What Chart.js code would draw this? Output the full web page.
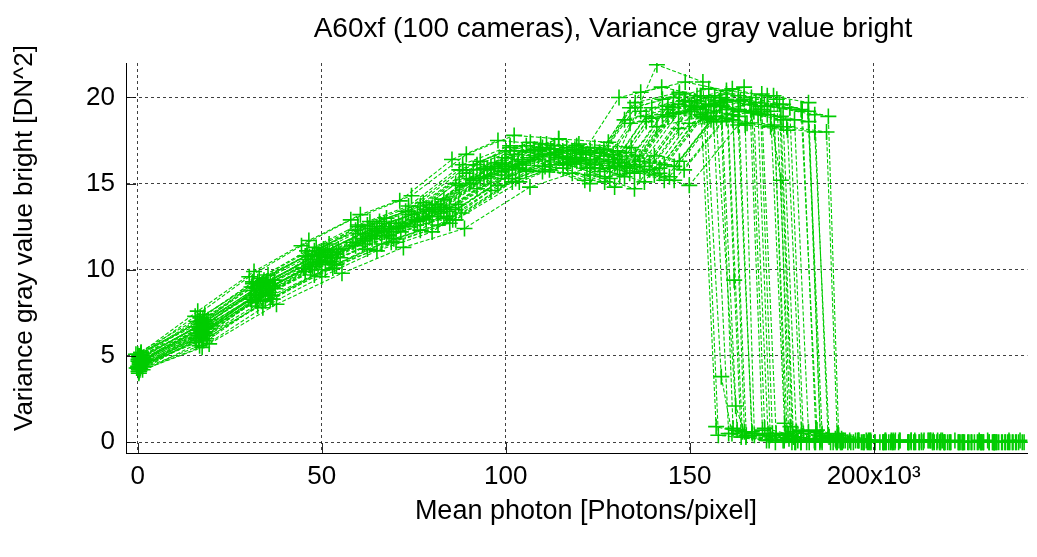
<!DOCTYPE html>
<html>
<head>
<meta charset="utf-8">
<script src="https://cdn.jsdelivr.net/npm/chart.js@4.4.0/dist/chart.umd.min.js"></script>
<style>
  body { margin: 0; background: #fff; }
</style>
</head>
<body>
<canvas id="myChart" width="1037" height="557"></canvas>
<script>
const chartTitle = 'A60xf (100 cameras), Variance gray value bright';
const xTitle = 'Mean photon [Photons/pixel]';
const yTitle = 'Variance gray value bright [DN^2]';

const xTickValues = [0, 50, 100, 150, 200];
const xTickLabels = ['0', '50', '100', '150', '200x10³'];
const yTickValues = [0, 5, 10, 15, 20];
const yTickLabels = ['0', '5', '10', '15', '20'];

// mean photons (x10^3) per measurement, one row per camera
const camPhotons = [
  [0.9, 16.1, 31.3, 46.0, 59.8, 73.6, 88.3, 101.2, 113.2, 124.2, 135.2, 147.2, 158.2, 169.3, 172.5, 185.4, 198.3, 211.2, 224.1, 237.0],
  [0.3, 18.9, 36.7, 54.0, 70.2, 86.4, 103.7, 118.8, 132.8, 145.8, 158.8, 162.9, 177.0, 191.2, 205.3, 219.4, 233.5],
  [1.2, 16.6, 32.3, 47.5, 61.8, 76.0, 91.2, 104.5, 116.9, 128.3, 139.7, 152.0, 163.4, 174.8, 178.2, 191.5, 204.8, 218.1, 231.4],
  [0.5, 17.5, 34.0, 50.0, 65.0, 80.0, 96.0, 110.0, 123.0, 135.0, 147.0, 160.0, 172.0, 175.8, 189.6, 203.4, 217.2, 231.0],
  [0.0, 18.0, 35.0, 51.5, 67.0, 82.4, 98.9, 113.3, 126.7, 139.1, 151.4, 164.8, 167.6, 181.8, 196.0, 210.2, 224.4, 238.6],
  [0.7, 17.0, 33.0, 48.5, 63.1, 77.6, 93.1, 106.7, 119.3, 131.0, 142.6, 155.2, 166.8, 178.5, 182.3, 195.9, 209.5, 223.1, 236.7],
  [1.5, 18.4, 35.7, 52.5, 68.3, 84.0, 100.8, 115.5, 129.2, 141.8, 154.4, 158.6, 161.5, 175.7, 189.9, 204.1, 218.3, 232.5],
  [0.4, 15.8, 30.6, 45.0, 58.5, 72.0, 86.4, 99.0, 110.7, 121.5, 132.3, 144.0, 154.8, 165.6, 176.4, 187.2, 190.1, 202.8, 215.5, 228.2, 240.9],
  [0.9, 17.7, 34.3, 50.5, 65.7, 80.8, 97.0, 111.1, 124.2, 136.4, 148.5, 161.6, 173.7, 177.4, 191.3, 205.2, 219.1, 233.0],
  [0.1, 16.5, 32.0, 47.0, 61.1, 75.2, 90.2, 103.4, 115.6, 126.9, 138.2, 150.4, 161.7, 165.4, 178.6, 191.8, 205.0, 218.2, 231.4],
  [0.6, 18.6, 36.0, 53.0, 68.9, 84.8, 101.8, 116.6, 130.4, 143.1, 155.8, 169.6, 182.3, 185.5, 200.3, 215.1, 229.9],
  [1.1, 17.3, 33.7, 49.5, 64.4, 79.2, 95.0, 108.9, 121.8, 133.7, 145.5, 158.4, 161.8, 175.4, 189.0, 202.6, 216.2, 229.8],
  [0.2, 19.3, 37.4, 55.0, 71.5, 88.0, 105.6, 121.0, 135.3, 148.5, 161.7, 164.9, 180.3, 195.7, 211.1, 226.5],
  [0.8, 16.8, 32.6, 48.0, 62.4, 76.8, 92.2, 105.6, 118.1, 129.6, 141.1, 153.6, 157.8, 170.9, 184.0, 197.1, 210.2, 223.3, 236.4],
  [0.3, 17.9, 34.7, 51.0, 66.3, 81.6, 97.9, 112.2, 125.5, 137.7, 149.9, 163.2, 175.4, 179.0, 193.0, 207.0, 221.0, 235.0],
  [0.6, 16.3, 31.6, 46.5, 60.5, 74.4, 89.3, 102.3, 114.4, 125.6, 136.7, 148.8, 160.0, 171.1, 182.3, 186.0, 199.2, 212.4, 225.6, 238.8],
  [1.0, 18.2, 35.4, 52.0, 67.6, 83.2, 99.8, 114.4, 127.9, 140.4, 152.9, 166.4, 169.8, 184.2, 198.6, 213.0, 227.4],
  [0.4, 17.2, 33.3, 49.0, 63.7, 78.4, 94.1, 107.8, 120.5, 132.3, 144.1, 156.8, 162.5, 165.3, 178.8, 192.3, 205.8, 219.3, 232.8],
  [0.7, 18.7, 36.4, 53.5, 69.6, 85.6, 102.7, 117.7, 131.6, 144.5, 157.3, 171.2, 184.0, 187.6, 202.5, 217.4, 232.3],
  [0.2, 15.9, 30.9, 45.5, 59.2, 72.8, 87.4, 100.1, 111.9, 122.9, 133.8, 145.6, 156.5, 167.4, 171.3, 184.0, 196.7, 209.4, 222.1, 234.8],
  [0.3, 15.6, 30.3, 44.5, 57.9, 71.2, 85.4, 97.9, 109.5, 120.2, 130.8, 142.4, 153.1, 163.8, 174.4, 177.9, 190.6, 203.3, 216.0, 228.7],
  [1.3, 19.4, 37.7, 55.5, 72.2, 88.8, 106.6, 122.1, 136.5, 149.9, 163.2, 167.0, 182.5, 198.0, 213.5, 229.0],
  [0.6, 16.8, 32.6, 48.0, 62.4, 76.8, 92.2, 105.6, 118.1, 129.6, 141.1, 153.6, 165.1, 176.6, 180.4, 193.8, 207.2, 220.6, 234.0],
  [-0.5, 18.2, 35.4, 52.0, 67.6, 83.2, 99.8, 114.4, 127.9, 140.4, 152.9, 157.2, 171.6, 186.0, 200.4, 214.8, 229.2],
  [0.9, 16.3, 31.6, 46.5, 60.5, 74.4, 89.3, 102.3, 114.4, 125.6, 136.7, 148.8, 160.0, 171.1, 174.8, 176.9, 190.1, 203.3, 216.5, 229.7],
  [0.2, 17.5, 34.0, 50.0, 65.0, 80.0, 96.0, 110.0, 123.0, 135.0, 147.0, 160.0, 172.0, 184.0, 187.9, 201.7, 215.5, 229.3],
  [1.4, 19.1, 37.1, 54.5, 70.9, 87.2, 104.6, 119.9, 134.1, 147.2, 160.2, 164.3, 179.4, 194.5, 209.6, 224.7, 239.8],
  [0.0, 15.9, 30.9, 45.5, 59.2, 72.8, 87.4, 100.1, 111.9, 122.9, 133.8, 145.6, 156.5, 160.6, 173.3, 186.0, 198.7, 211.4, 224.1, 236.8],
  [0.8, 17.9, 34.7, 51.0, 66.3, 81.6, 97.9, 112.2, 125.5, 137.7, 149.9, 163.2, 175.4, 187.7, 190.5, 204.6, 218.7, 232.8],
  [0.5, 17.0, 33.0, 48.5, 63.1, 77.6, 93.1, 106.7, 119.3, 131.0, 142.6, 155.2, 166.8, 170.4, 183.9, 197.4, 210.9, 224.4, 237.9],
  [0.1, 18.6, 36.0, 53.0, 68.9, 84.8, 101.8, 116.6, 130.4, 143.1, 155.8, 169.6, 173.5, 188.3, 203.1, 217.9, 232.7],
  [1.0, 17.3, 33.7, 49.5, 64.4, 79.2, 95.0, 108.9, 121.8, 133.7, 145.5, 158.4, 170.3, 182.2, 185.6, 199.3, 213.0, 226.7, 240.4],
  [0.4, 16.6, 32.3, 47.5, 61.8, 76.0, 91.2, 104.5, 116.9, 128.3, 139.7, 152.0, 163.4, 166.9, 180.2, 193.5, 206.8, 220.1, 233.4],
  [1.2, 18.0, 35.0, 51.5, 67.0, 82.4, 98.9, 113.3, 126.7, 139.1, 151.4, 164.8, 177.2, 180.9, 195.1, 209.3, 223.5, 237.7],
  [0.6, 16.1, 31.3, 46.0, 59.8, 73.6, 88.3, 101.2, 113.2, 124.2, 135.2, 147.2, 158.2, 169.3, 180.3, 184.6, 197.4, 210.2, 223.0, 235.8],
  [0.9, 18.9, 36.7, 54.0, 70.2, 86.4, 103.7, 118.8, 132.8, 145.8, 158.8, 172.8, 176.1, 191.0, 205.9, 220.8, 235.7],
  [1.7, 17.5, 34.0, 50.0, 65.0, 80.0, 96.0, 110.0, 123.0, 135.0, 147.0, 160.0, 162.1, 164.0, 177.8, 191.6, 205.4, 219.2, 233.0],
  [-0.3, 16.5, 32.0, 47.0, 61.1, 75.2, 90.2, 103.4, 115.6, 126.9, 138.2, 150.4, 161.7, 173.0, 176.5, 189.7, 202.9, 216.1, 229.3],
  [0.5, 18.4, 35.7, 52.5, 68.3, 84.0, 100.8, 115.5, 129.2, 141.8, 154.4, 168.0, 180.6, 184.3, 199.0, 213.7, 228.4],
  [1.3, 17.2, 33.3, 49.0, 63.7, 78.4, 94.1, 107.8, 120.5, 132.3, 144.1, 156.8, 168.6, 171.9, 185.4, 198.9, 212.4, 225.9, 239.4]
];

// variance [DN^2], same order as camPhotons
const camVariance = [
  [4.9, 6.7, 9.2, 10.8, 12.5, 13.4, 15.8, 17.1, 16.7, 16.1, 19.4, 20.2, 19.5, 19.1, 0.5, 0.1, 0.0, 0.1, 0.0, 0.0],
  [4.2, 6.2, 8.3, 10.3, 11.6, 12.9, 15.1, 16.4, 16.0, 15.2, 18.6, 0.7, 0.2, 0.0, 0.1, 0.0, 0.0],
  [4.7, 6.5, 8.9, 10.8, 12.1, 13.3, 15.8, 16.9, 16.5, 15.9, 19.4, 20.1, 19.3, 18.9, 0.3, 0.0, 0.1, 0.0, 0.0],
  [4.6, 6.4, 8.8, 10.5, 12.2, 13.1, 15.5, 16.7, 16.4, 15.6, 19.1, 19.9, 19.2, 1.1, 0.2, 0.0, 0.0, 0.1],
  [5.1, 7.0, 9.3, 11.1, 12.7, 13.7, 16.1, 17.2, 17.0, 16.2, 19.8, 20.6, 0.4, 0.0, 0.1, 0.0, 0.0, 0.0],
  [4.4, 6.3, 8.6, 10.4, 11.9, 13.0, 15.3, 16.5, 16.3, 15.5, 19.0, 19.6, 19.1, 18.7, 0.6, 0.1, 0.0, 0.0, 0.0],
  [4.8, 6.7, 9.0, 10.8, 12.4, 13.4, 15.8, 16.9, 16.7, 15.9, 19.5, 3.8, 0.5, 0.1, 0.0, 0.0, 0.1, 0.0],
  [4.1, 6.0, 8.3, 10.1, 11.6, 12.7, 15.0, 16.2, 16.0, 15.2, 18.7, 19.3, 18.8, 18.5, 18.3, 18.0, 0.5, 0.0, 0.1, 0.0, 0.0],
  [5.2, 7.1, 9.4, 11.2, 12.8, 13.8, 16.2, 17.3, 17.1, 16.3, 19.8, 20.5, 19.9, 0.9, 0.2, 0.0, 0.0, 0.0],
  [4.3, 6.2, 8.5, 10.3, 11.8, 12.9, 15.3, 16.4, 16.2, 15.4, 18.9, 19.5, 19.0, 0.4, 0.0, 0.1, 0.0, 0.0, 0.0],
  [5.0, 6.9, 9.2, 11.0, 12.5, 13.6, 16.0, 17.1, 16.9, 16.1, 19.6, 20.2, 19.7, 0.3, 0.0, 0.1, 0.0],
  [4.5, 6.4, 8.7, 10.5, 12.0, 13.1, 15.4, 16.6, 16.4, 15.6, 19.1, 19.7, 0.8, 0.1, 0.0, 0.0, 0.1, 0.0],
  [4.7, 6.6, 8.9, 10.7, 12.2, 13.3, 15.7, 16.8, 16.6, 15.8, 19.3, 0.6, 0.0, 0.1, 0.0, 0.0],
  [5.1, 7.0, 9.3, 11.1, 12.6, 13.7, 16.1, 17.2, 16.9, 16.2, 21.9, 20.9, 0.4, 0.1, 0.0, 0.0, 0.1, 0.0, 0.0],
  [4.0, 5.9, 8.2, 10.0, 11.5, 12.6, 14.9, 16.1, 15.9, 15.1, 18.5, 19.2, 18.7, 0.6, 0.0, 0.1, 0.0, 0.0],
  [4.6, 6.5, 8.8, 10.6, 12.1, 13.2, 15.6, 16.7, 16.5, 15.7, 19.2, 19.8, 19.3, 19.0, 18.6, 0.5, 0.1, 0.0, 0.0, 0.0],
  [4.4, 6.3, 8.6, 10.4, 11.9, 13.0, 15.3, 16.5, 16.3, 15.5, 19.0, 19.6, 0.7, 0.0, 0.1, 0.0, 0.0],
  [4.9, 6.8, 9.1, 10.9, 12.4, 13.5, 15.9, 17.0, 16.8, 16.0, 19.5, 20.1, 2.1, 0.3, 0.0, 0.1, 0.0, 0.0, 0.0],
  [4.3, 6.2, 8.5, 10.3, 11.8, 12.9, 15.3, 16.4, 16.2, 15.4, 18.9, 19.5, 19.0, 0.4, 0.0, 0.1, 0.0],
  [4.8, 6.7, 9.0, 10.8, 12.3, 13.4, 15.8, 16.9, 16.7, 15.9, 19.4, 20.0, 19.5, 19.2, 0.5, 0.1, 0.0, 0.0, 0.1, 0.0],
  [5.0, 7.3, 9.6, 11.4, 12.9, 14.0, 16.4, 17.5, 17.3, 16.5, 20.0, 20.6, 20.1, 19.8, 19.6, 0.6, 0.1, 0.0, 0.0, 0.1],
  [4.2, 5.7, 8.0, 9.8, 11.3, 12.4, 14.8, 15.9, 15.7, 14.9, 18.4, 0.5, 0.0, 0.1, 0.0, 0.0],
  [4.2, 5.6, 7.9, 9.7, 11.2, 12.3, 14.7, 15.8, 15.6, 14.8, 18.3, 18.9, 18.4, 18.1, 0.7, 0.0, 0.1, 0.0, 0.0],
  [5.1, 7.4, 9.7, 11.5, 13.0, 14.1, 16.5, 17.6, 17.4, 16.6, 20.1, 0.9, 0.1, 0.0, 0.0, 0.1, 0.0],
  [5.2, 7.6, 9.9, 11.7, 13.2, 14.3, 16.7, 17.8, 17.6, 16.8, 20.3, 20.9, 20.4, 20.1, 15.2, 0.4, 0.0, 0.1, 0.0, 0.0],
  [4.1, 5.5, 7.8, 9.6, 11.1, 12.2, 14.6, 15.7, 15.5, 14.7, 18.2, 18.8, 18.3, 18.0, 0.3, 0.0, 0.1, 0.0],
  [4.9, 7.1, 9.4, 11.2, 12.7, 13.8, 16.2, 17.3, 17.1, 16.3, 19.8, 0.6, 0.1, 0.0, 0.0, 0.0, 0.1],
  [4.3, 5.8, 8.1, 9.9, 11.4, 12.5, 14.9, 16.0, 15.8, 15.0, 18.5, 19.1, 18.6, 0.5, 0.0, 0.1, 0.0, 0.0, 0.0, 0.1],
  [4.7, 6.8, 9.1, 10.9, 12.4, 13.5, 15.9, 17.0, 16.8, 16.0, 19.5, 20.1, 19.6, 18.9, 0.4, 0.0, 0.1, 0.0],
  [5.0, 7.2, 9.5, 11.3, 12.8, 13.9, 16.3, 17.4, 17.2, 16.4, 19.9, 20.5, 20.0, 0.8, 0.1, 0.0, 0.0, 0.0, 0.0],
  [4.4, 6.0, 8.3, 10.1, 11.6, 12.7, 15.1, 16.2, 16.0, 15.2, 18.7, 19.3, 0.5, 0.0, 0.1, 0.0, 0.0],
  [4.7, 6.7, 9.0, 10.8, 12.3, 13.4, 15.8, 16.9, 16.7, 15.9, 19.4, 20.0, 19.5, 19.2, 0.2, 0.0, 0.1, 0.0, 0.0],
  [4.4, 6.1, 8.4, 10.2, 11.7, 12.8, 15.2, 16.3, 16.1, 15.3, 18.8, 19.4, 18.9, 0.6, 0.0, 0.1, 0.0, 0.0, 0.0],
  [4.6, 6.6, 8.9, 10.7, 12.2, 13.3, 15.7, 16.8, 16.6, 15.8, 19.3, 19.9, 19.4, 0.5, 0.1, 0.0, 0.0, 0.0],
  [4.9, 7.0, 9.3, 11.1, 12.6, 13.7, 16.1, 17.2, 17.0, 16.2, 19.7, 20.3, 19.8, 19.5, 19.3, 0.7, 0.0, 0.1, 0.0, 0.0],
  [4.8, 6.8, 9.1, 10.9, 12.4, 13.5, 15.9, 17.0, 16.8, 16.0, 19.5, 20.1, 0.4, 0.0, 0.1, 0.0, 0.0],
  [4.8, 6.9, 9.2, 11.0, 12.5, 13.6, 16.0, 17.1, 16.9, 16.1, 19.6, 20.2, 9.4, 0.3, 0.0, 0.1, 0.0, 0.0, 0.0],
  [4.3, 5.9, 8.2, 10.0, 11.5, 12.6, 15.0, 16.1, 15.9, 15.1, 18.6, 19.2, 18.7, 18.4, 0.5, 0.1, 0.0, 0.0, 0.0],
  [4.5, 6.4, 8.7, 10.5, 12.0, 13.1, 15.5, 16.6, 16.4, 15.6, 19.1, 19.7, 19.2, 0.6, 0.0, 0.1, 0.0],
  [4.4, 6.2, 8.5, 10.3, 11.8, 12.9, 15.3, 16.4, 16.2, 15.4, 18.9, 19.5, 19.0, 0.4, 0.0, 0.1, 0.0, 0.0, 0.0]
];

const green = 'rgb(0, 204, 0)';
const fontFamily = '"Liberation Sans", Arial, Helvetica, sans-serif';

const datasets = camPhotons.map((xs, i) => ({
  label: 'camera ' + (i + 1),
  data: xs.map((x, j) => ({ x: x, y: camVariance[i][j] })),
  showLine: true,
  borderColor: green,
  backgroundColor: green,
  borderWidth: 1.1,
  borderDash: [4, 2],
  pointStyle: 'cross',
  pointRadius: 8,
  pointBorderWidth: 1.6,
  pointBorderColor: green
}));

// short inward tick marks on the two axes
const tickMarks = {
  id: 'tickMarks',
  afterDraw(chart) {
    const ctx = chart.ctx;
    const xs = chart.scales.x, ys = chart.scales.y;
    const area = chart.chartArea;
    ctx.save();
    ctx.strokeStyle = 'rgba(0,0,0,0.85)';
    ctx.lineWidth = 1;
    ctx.beginPath();
    xTickValues.forEach(v => {
      const px = Math.round(xs.getPixelForValue(v)) + 0.5;
      ctx.moveTo(px, area.bottom);
      ctx.lineTo(px, area.bottom - 10);
    });
    yTickValues.forEach(v => {
      const py = Math.round(ys.getPixelForValue(v)) + 0.5;
      ctx.moveTo(area.left, py);
      ctx.lineTo(area.left + 10, py);
    });
    ctx.stroke();
    ctx.restore();
  }
};

const titles = {
  id: 'titles',
  afterDraw(chart) {
    const ctx = chart.ctx;
    ctx.save();
    ctx.fillStyle = '#000';
    ctx.textAlign = 'center';
    ctx.textBaseline = 'middle';
    ctx.font = '28px ' + fontFamily;
    ctx.fillText(chartTitle, 613, 29);
    ctx.font = '27px ' + fontFamily;
    ctx.fillText(xTitle, 586, 512);
    ctx.font = '26px ' + fontFamily;
    ctx.translate(25, 238);
    ctx.rotate(-Math.PI / 2);
    ctx.fillText(yTitle, 0, 0);
    ctx.restore();
  }
};

const ctx = document.getElementById('myChart').getContext('2d');
const myChart = new Chart(ctx, {
  type: 'scatter',
  data: { datasets: datasets },
  options: {
    responsive: false,
    animation: false,
    devicePixelRatio: 1,
    layout: { padding: { top: 63, right: 3, left: 0, bottom: 0 } },
    plugins: {
      legend: { display: false },
      tooltip: { enabled: false },
      title: { display: false }
    },
    scales: {
      x: {
        type: 'linear',
        min: -3.2,
        max: 241.8,
        afterBuildTicks: s => { s.ticks = xTickValues.map(v => ({ value: v })); },
        afterFit: s => { s.height = 104; },
        ticks: {
          callback: (v, i) => xTickLabels[i],
          color: '#000',
          font: { family: fontFamily, size: 26 },
          padding: 8,
          maxRotation: 0
        },
        grid: { color: 'rgba(0,0,0,0.75)', lineWidth: 1, drawTicks: false },
        border: { display: true, color: '#000', width: 1, dash: [3, 3] }
      },
      y: {
        type: 'linear',
        min: -0.63,
        max: 22,
        afterBuildTicks: s => { s.ticks = yTickValues.map(v => ({ value: v })); },
        afterFit: s => { s.width = 126; },
        ticks: {
          callback: (v, i) => yTickLabels[i],
          color: '#000',
          font: { family: fontFamily, size: 26 },
          padding: 11
        },
        grid: { color: 'rgba(0,0,0,0.75)', lineWidth: 1, drawTicks: false },
        border: { display: true, color: '#000', width: 1, dash: [3, 3] }
      }
    }
  },
  plugins: [tickMarks, titles]
});
</script>
</body>
</html>
